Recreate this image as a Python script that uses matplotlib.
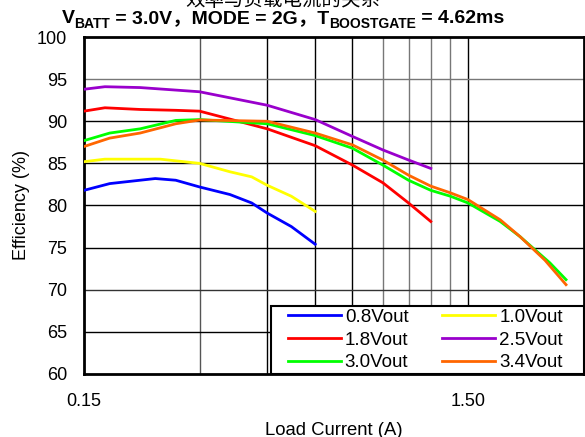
import matplotlib
matplotlib.use('Agg')
import matplotlib.pyplot as plt
from matplotlib.patches import Rectangle

plt.rcParams['font.family'] = ['Liberation Sans', 'Noto Sans CJK SC']

# load current (A) / efficiency (%) per output voltage
x_08 = [0.15, 0.175, 0.23, 0.26, 0.30, 0.36, 0.41, 0.45, 0.52, 0.60]
y_08 = [81.8, 82.6, 83.2, 83.0, 82.2, 81.3, 80.3, 79.1, 77.5, 75.4]

x_10 = [0.15, 0.17, 0.237, 0.30, 0.36, 0.41, 0.45, 0.52, 0.60]
y_10 = [85.2, 85.5, 85.5, 85.0, 84.0, 83.4, 82.4, 81.1, 79.3]

x_18 = [0.15, 0.17, 0.21, 0.26, 0.30, 0.45, 0.60, 0.75, 0.90, 1.05, 1.20]
y_18 = [91.2, 91.6, 91.4, 91.3, 91.2, 89.1, 87.1, 84.8, 82.7, 80.3, 78.1]

x_25 = [0.15, 0.17, 0.21, 0.30, 0.45, 0.60, 0.75, 0.90, 1.05, 1.20]
y_25 = [93.8, 94.1, 94.0, 93.5, 91.9, 90.2, 88.2, 86.6, 85.4, 84.4]

x_30 = [0.15, 0.175, 0.21, 0.26, 0.30, 0.45, 0.60, 0.75, 0.90, 1.05, 1.20, 1.35, 1.50, 1.82, 2.05, 2.45, 2.70]
y_30 = [87.7, 88.6, 89.1, 90.1, 90.2, 89.7, 88.3, 86.8, 84.8, 83.0, 81.8, 81.1, 80.3, 78.1, 76.3, 73.2, 71.2]

x_34 = [0.15, 0.175, 0.21, 0.26, 0.30, 0.45, 0.60, 0.75, 0.90, 1.05, 1.20, 1.35, 1.50, 1.82, 2.05, 2.38, 2.70]
y_34 = [87.0, 88.0, 88.6, 89.7, 90.15, 90.0, 88.6, 87.2, 85.4, 83.6, 82.3, 81.5, 80.7, 78.3, 76.3, 73.5, 70.6]

series = [
    ('0.8Vout', x_08, y_08, '#0000FF'),
    ('1.0Vout', x_10, y_10, '#FFFF00'),
    ('1.8Vout', x_18, y_18, '#FF0000'),
    ('2.5Vout', x_25, y_25, '#9900CC'),
    ('3.0Vout', x_30, y_30, '#00FF00'),
    ('3.4Vout', x_34, y_34, '#FF6600'),
]

fig = plt.figure(figsize=(5.85, 4.37), dpi=100)
ax = fig.add_axes([0.1436, 0.1442, 0.854, 0.7711])

# grid lines (vertical at multiples of 0.15)
vgrid = [0.30, 0.45, 0.60, 0.75, 0.90, 1.05, 1.20, 1.35, 1.50]
vcols = ['#555555', 'k', 'k', 'k', '#777777', '#777777', '#777777', '#777777', 'k']
for v, c in zip(vgrid, vcols):
    ax.axvline(v, color=c, lw=1.0, zorder=1)
hgrid = [65, 70, 75, 80, 85, 90, 95]
hcols = ['k', '#333333', 'k', 'k', 'k', 'k', '#777777']
for h, c in zip(hgrid, hcols):
    ax.axhline(h, color=c, lw=1.0, zorder=1)

lines = {}
for name, xs, ys, col in series:
    lines[name], = ax.plot(xs, ys, color=col, lw=2.0, label=name, zorder=3)

ax.set_xscale('log')
ax.set_xlim(0.15, 3.0)
ax.set_ylim(60, 100)
ax.set_xticks([0.15, 1.5])
ax.set_xticklabels(['0.15', '1.50'])
ax.xaxis.set_minor_locator(matplotlib.ticker.NullLocator())
ax.set_yticks(range(60, 101, 5))
ax.tick_params(axis='both', length=0, labelsize=13)
ax.tick_params(axis='y', pad=12)
ax.tick_params(axis='x', pad=14)
for s in ax.spines.values():
    s.set_linewidth(2.0)

ax.set_xlabel('Load Current (A)', fontsize=13.3, labelpad=8)
ax.set_ylabel('Efficiency (%)', fontsize=13, labelpad=5)

# legend box with its own frame
frame = Rectangle((0.375, 0.0), 0.625, 0.2018, transform=ax.transAxes,
                  facecolor='white', edgecolor='k', lw=1.5, zorder=4, clip_on=False)
ax.add_patch(frame)
order = ['0.8Vout', '1.8Vout', '3.0Vout', '1.0Vout', '2.5Vout', '3.4Vout']
leg = ax.legend([lines[n] for n in order], order, ncol=2, loc='center left',
                bbox_to_anchor=(0.408, 0.1009), fontsize=13.5,
                handlelength=2.83, handletextpad=0.21, columnspacing=1.8,
                labelspacing=0.29, borderaxespad=0, borderpad=0, frameon=False)
leg.set_zorder(5)

# title: chinese line (cut at top) + line with subscripts
fig.text(0.484, 0.998, '效率与负载电流的关系', ha='center', va='center', fontsize=14)

renderer = fig.canvas.get_renderer()
pieces = [('V', 0), ('BATT', 1), (' = 3.0V，MODE = 2G，T', 0), ('BOOSTGATE', 1), (' = 4.62ms', 0)]
base_y = 437 - 23
x = 0.0
texts = []
for s, sub in pieces:
    size = 10 if sub else 14
    y = base_y - (5 if sub else 0)
    t = fig.text(x / 585, y / 437, s, fontsize=size, fontweight='bold',
                 ha='left', va='baseline')
    w = t.get_window_extent(renderer).width
    texts.append((t, x, y))
    x += w
shift = 283 - x / 2
for t, tx, ty in texts:
    t.set_position(((tx + shift) / 585, ty / 437))

fig.savefig('out.png', dpi=100)
